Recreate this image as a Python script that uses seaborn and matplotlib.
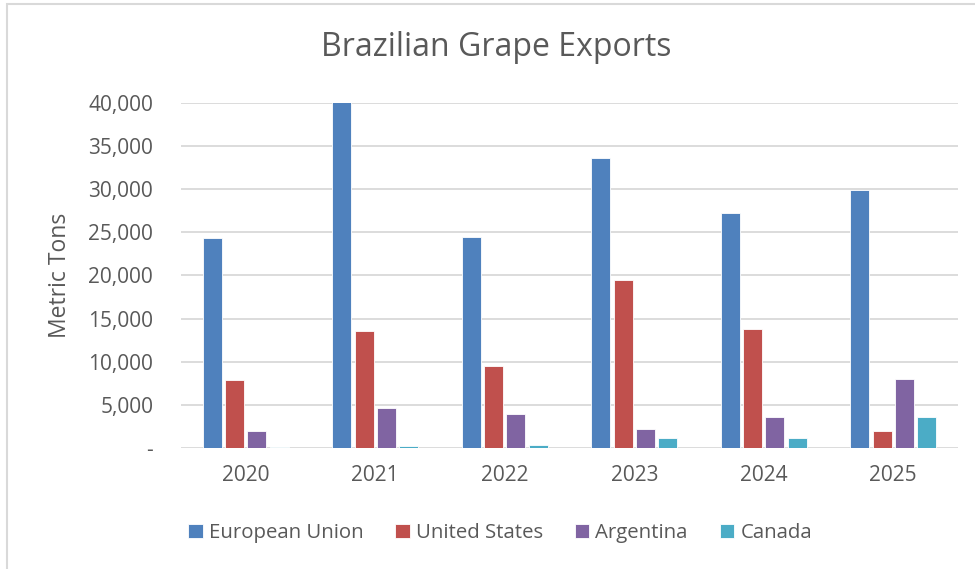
import matplotlib
matplotlib.use("Agg")
import matplotlib.pyplot as plt
import matplotlib.ticker as mticker
from matplotlib.patches import Rectangle
import pandas as pd
import seaborn as sns

# Datos (toneladas metricas)
years = ["2020", "2021", "2022", "2023", "2024", "2025"]
european_union = [24400, 40100, 24500, 33600, 27200, 29900]
united_states = [7900, 13600, 9500, 19500, 13800, 1950]
argentina = [2000, 4600, 3900, 2250, 3600, 8000]
canada = [150, 270, 380, 1200, 1200, 3600]

series_names = ["European Union", "United States", "Argentina", "Canada"]
colors = ["#4F81BD", "#C0504D", "#8064A2", "#4BACC6"]
text_gray = "#595959"
grid_gray = "#D9D9D9"

df = pd.DataFrame({
    "year": years * 4,
    "tons": european_union + united_states + argentina + canada,
    "market": [n for n in series_names for _ in years],
})

sns.set_theme(style="white")
plt.rcParams["font.family"] = ["Open Sans", "DejaVu Sans"]

fig = plt.figure(figsize=(9.75, 5.69), dpi=100)
ax = fig.add_axes([0.1856, 0.2127, 0.797, 0.6063])

sns.barplot(
    data=df, x="year", y="tons", hue="market", order=years,
    hue_order=series_names, palette=colors, width=0.69, gap=0.15,
    edgecolor="white", linewidth=0.6, saturation=1, ax=ax,
)

ax.set_ylim(0, 40000)
ax.set_xlim(-0.5, len(years) - 0.5)
ax.yaxis.set_major_locator(mticker.MultipleLocator(5000))
ax.yaxis.set_major_formatter(
    mticker.FuncFormatter(lambda v, p: "-" if v == 0 else f"{v:,.0f}")
)
ax.grid(True, axis="y", color=grid_gray, linewidth=1.3)
ax.set_axisbelow(True)
for side in ["top", "right", "left", "bottom"]:
    ax.spines[side].set_visible(False)
ax.tick_params(axis="both", length=0, colors=text_gray, labelsize=15)
ax.tick_params(axis="y", pad=20)
ax.tick_params(axis="x", pad=12)

ax.set_xlabel("")
ax.set_ylabel("Metric Tons", color=text_gray, fontsize=16.5, labelpad=12)
fig.text(0.509, 0.916, "Brazilian Grape Exports", ha="center", va="center",
         fontsize=23, color=text_gray)

handles, labels = ax.get_legend_handles_labels()
ax.legend(
    handles, labels, loc="center", bbox_to_anchor=(0.513, 0.063),
    bbox_transform=fig.transFigure, ncol=4, frameon=False, fontsize=14.7,
    handlelength=0.7, handleheight=0.7, handletextpad=0.3, columnspacing=1.57,
    labelcolor=text_gray,
)

# Borde del area del grafico (estilo Excel)
fig.patches.append(Rectangle((7 / 975, -0.1), 1.1, 0.993 + 0.1,
                             transform=fig.transFigure, fill=False,
                             edgecolor=grid_gray, linewidth=1.5))

fig.savefig("out.png", dpi=100, facecolor="white")
